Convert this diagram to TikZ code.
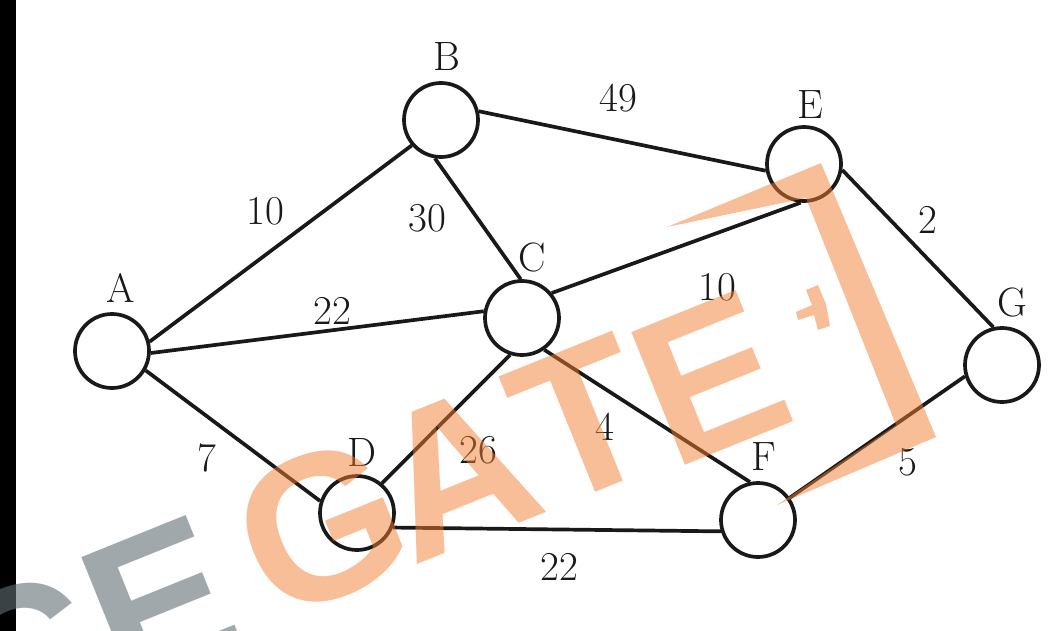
\documentclass[tikz,border=0pt]{standalone}
\usepackage{fontspec}
\newfontfamily\wmfont{Liberation Sans}
\definecolor{wmorange}{RGB}{241,125,49}
\definecolor{wmgray}{RGB}{97,110,117}
\definecolor{ink}{RGB}{25,25,25}
\begin{document}
\begin{tikzpicture}[x=1pt,y=-1pt,
  vtx/.style={circle,draw=ink,line width=3.7pt,minimum size=74pt,inner sep=0pt},
  lbl/.style={inner sep=0pt,text=ink,font=\fontsize{41}{41}\selectfont},
  edge/.style={draw=ink,line width=3.7pt},
  wm/.style={inner sep=0pt,rotate=22,font=\wmfont\bfseries\fontsize{208}{208}\selectfont},
  wmo/.style={wm,text=wmorange,text opacity=0.5},
  wmg/.style={wm,text=wmgray,text opacity=0.6},
]
\useasboundingbox (0,0) rectangle (1049,631);
\fill[black] (0,0) rectangle (16,631);

% vertices
\node[vtx] (A) at (112,351) {};
\node[vtx] (B) at (441,120) {};
\node[vtx] (C) at (522,318) {};
\node[vtx] (D) at (357,513) {};
\node[vtx] (E) at (804,164) {};
\node[vtx] (F) at (758,520) {};
\node[vtx] (G) at (1002,365) {};

% vertex labels
\node[lbl] (lA) at (121,288) {A};
\node[lbl] (lB) at (447,57) {B};
\node[lbl] (lC) at (532,257) {C};
\node[lbl] (lD) at (362,452) {D};
\node[lbl] (lE) at (810,105) {E};
\node[lbl] (lF) at (764,457) {F};
\node[lbl] (lG) at (1012,302) {G};

% edges
\draw[edge] (A.14) -- (B.221);
\draw[edge] (A.-3) -- (C.170);
\draw[edge] (A.-30) -- (D.162);
\draw[edge] (B.-99) -- (C.92);
\draw[edge] (B.13) -- (E.190);
\draw[edge] (C.40) -- (E.-95);
\draw[edge] (C.-55) -- (F.102);
\draw[edge] (C.-108) -- (D.50);
\draw[edge] (D.-22) -- (F.-163);
\draw[edge] (E.-9) -- (G.103);
\draw[edge] (F.35) -- (G.-163);

% weights
\node[lbl] (wAB) at (265,211) {10};
\node[lbl] (wBC) at (427,218) {30};
\node[lbl] (wBE) at (618,98) {49};
\node[lbl] (wAC) at (332,311) {22};
\node[lbl] (wCE) at (717,287) {10};
\node[lbl] (wEG) at (928,220) {2};
\node[lbl] (wAD) at (207,458) {7};
\node[lbl] (wCD) at (478,450) {26};
\node[lbl] (wCF) at (605,427) {4};
\node[lbl] (wFG) at (908,462) {5};
\node[lbl] (wDF) at (559,567) {22};

% watermark
\node[wmg] (wmE) at (160,603) {E};
\node[wmg] (wmC) at (22,660) {C};
\node[wmo] (wmG) at (322,527) {G};
\node[wmo] (wmA) at (455,472) {A};
\node[wmo] (wmT) at (583,420) {T};
\node[wmo] (wmEE) at (710,378) {E};
\fill[wmorange,opacity=0.5] (667,227) -- (821,163) -- (936,437) -- (777,505) -- (896,425) -- (806,198) -- cycle;
\fill[wmorange,opacity=0.5] (796,312) -- (812,305) -- (806,290) -- (818,285) -- (826,304) -- (830,326) -- (818,330) -- (814,315) -- (798,320) -- cycle;
\end{tikzpicture}
\end{document}
